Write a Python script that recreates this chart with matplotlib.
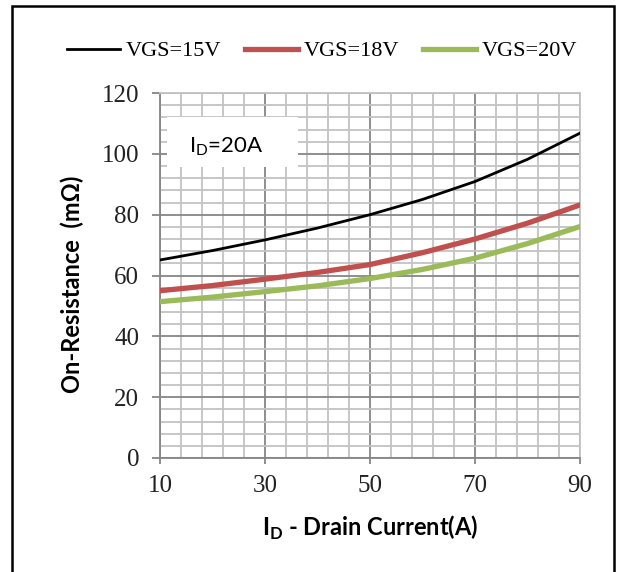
import matplotlib.pyplot as plt
from matplotlib.ticker import MultipleLocator
from matplotlib.patches import Rectangle

# values (I_D in A, R in mOhm)
current = [10, 20, 30, 40, 50, 60, 70, 80, 90]
r_vgs15 = [65.1, 68.2, 71.7, 75.6, 80.0, 85.0, 90.9, 98.2, 106.8]
r_vgs18 = [55.0, 56.7, 58.8, 61.0, 63.6, 67.5, 72.0, 77.2, 83.2]
r_vgs20 = [51.4, 52.9, 54.7, 56.6, 59.0, 62.0, 65.7, 70.5, 76.1]
labels = ['VGS=15V', 'VGS=18V', 'VGS=20V']

serif = ['Liberation Serif', 'DejaVu Serif']
sans = ['Lato', 'DejaVu Sans']
major_c = '#868686'
minor_c = '#c3c3c3'

W, H = 626, 572
fig = plt.figure(figsize=(W/100, H/100), dpi=100)
ax = fig.add_axes([160/W, 1-458/H, 420/W, 365/H])

ax.plot(current, r_vgs15, color='black', lw=2.0, label=labels[0], zorder=5)
ax.plot(current, r_vgs18, color='#c0504d', lw=3.8, label=labels[1], zorder=5)
ax.plot(current, r_vgs20, color='#9bbb59', lw=3.8, label=labels[2], zorder=5)

ax.set_xlim(10, 90)
ax.set_ylim(0, 120)
ax.xaxis.set_major_locator(MultipleLocator(20, offset=10))
ax.xaxis.set_minor_locator(MultipleLocator(4, offset=2))
ax.yaxis.set_major_locator(MultipleLocator(20))
ax.yaxis.set_minor_locator(MultipleLocator(4))
ax.grid(which='minor', color=minor_c, lw=1.3, zorder=0)
ax.grid(which='major', color=major_c, lw=1.3, zorder=1)
ax.set_axisbelow(True)

ax.tick_params(which='minor', length=0)
ax.tick_params(which='major', direction='out', color=major_c, width=1.3,
               labelsize=18, labelcolor='#222222')
ax.tick_params(axis='y', which='major', length=6, pad=9)
ax.tick_params(axis='x', which='major', length=4, pad=8)
for t in ax.get_xticklabels() + ax.get_yticklabels():
    t.set_family(serif)

for s in ['left', 'bottom']:
    ax.spines[s].set_color(major_c)
    ax.spines[s].set_linewidth(1.3)
for s in ['top', 'right']:
    ax.spines[s].set_color(minor_c)
    ax.spines[s].set_linewidth(1.3)

fig.text(370/W, 1-528/H, 'I$_\\mathregular{D}$ - Drain Current(A)', family=sans,
         fontsize=17, fontweight='bold', ha='center', va='center')
fig.text(72/W, 1-284/H, 'On-Resistance  (m\u03a9)', family=sans, fontsize=17,
         fontweight='bold', ha='center', va='center', rotation=90)

# note box covering the grid
ax.add_patch(Rectangle((11.3, 95.7), 25.0, 16.5, facecolor='white',
                       edgecolor='none', zorder=4))
ax.text(22.6, 102.3, 'I$_\\mathregular{D}$=20A', family=sans, fontsize=16,
        ha='center', va='center', zorder=6)

fig.legend(loc='center', bbox_to_anchor=(322/W, 1-51/H), ncol=3,
           frameon=False, handlelength=2.4, handletextpad=0.25,
           columnspacing=1.05, prop={'family': serif, 'size': 16})

# outer frame
fig.patches.append(Rectangle((12/W, -0.01), (614-12)/W, 1.01-6/H,
                             transform=fig.transFigure, fill=False,
                             edgecolor='black', lw=1.8))

fig.savefig('out.png', dpi=100)
